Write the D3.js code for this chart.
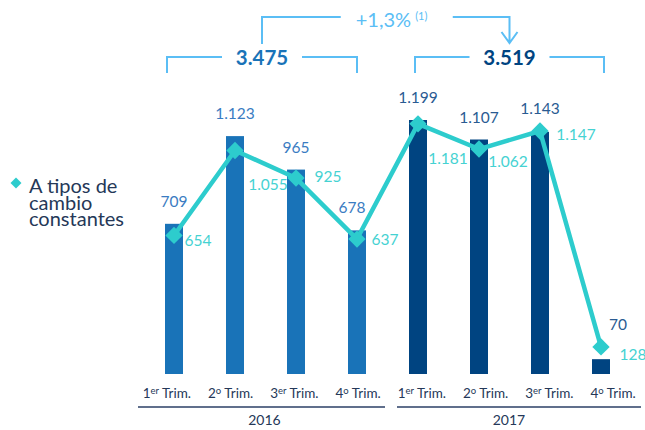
<!DOCTYPE html>
<html>
<head>
<meta charset="utf-8">
<script src="https://cdn.jsdelivr.net/npm/d3@7"></script>
<style>
  body { margin: 0; background: #fff; }
  svg text { font-family: Lato, "Open Sans", sans-serif; }
</style>
</head>
<body>
<div id="chart"></div>
<script>
// datos: beneficio atribuido por trimestre (millones de euros)
const trimestres = ["1T16", "2T16", "3T16", "4T16", "1T17", "2T17", "3T17", "4T17"];
const trimNum = ["1", "2", "3", "4", "1", "2", "3", "4"];
const trimSup = ["er", "o", "er", "o", "er", "o", "er", "o"];
const years = ["2016", "2017"];
const valores = [709, 1123, 965, 678, 1199, 1107, 1143, 70];
const constantes = [654, 1055, 925, 637, 1181, 1062, 1147, 128];
const totales = [3475, 3519];
const variacion = "+1,3%";

// label placement tweaks (dx, dy from the diamond)
const lineLabelOff = [[24, 11], [33, 39], [32, 4], [28, 6], [30, 40], [29, 18], [36, 9], [32, 13]];
const barLabelDx = [0, 0, 0, -5, 0, 0, 0, 17];

const W = 645, H = 430;
const c2016 = "#1973b8", c2017 = "#004481", cLine = "#2dcccd", cBracket = "#5bbef5";
const cText = "#253858";

const es = d3.formatLocale({ decimal: ",", thousands: ".", grouping: [3], currency: ["", ""] });
const fmt = es.format(",d");

const svg = d3.select("#chart").append("svg")
    .attr("width", W)
    .attr("height", H);

const x = d3.scalePoint()
    .domain(trimestres)
    .range([143.5, 631.5])
    .padding(0.5);

// axis labels are spread a bit wider than the bars
const xLab = d3.scalePoint()
    .domain(trimestres)
    .range([135, 645])
    .padding(0.5);

const y = d3.scaleLinear()
    .domain([0, 1200])
    .range([374, 119.8]);

const barW = 18;
const yearOf = i => i < 4 ? 0 : 1;

// bars
svg.append("g").selectAll("rect")
    .data(valores)
    .join("rect")
    .attr("x", (d, i) => x(trimestres[i]) - barW / 2)
    .attr("y", d => y(d))
    .attr("width", barW)
    .attr("height", d => y(0) - y(d))
    .attr("fill", (d, i) => yearOf(i) ? c2017 : c2016);

// line
svg.append("path")
    .datum(constantes)
    .attr("fill", "none")
    .attr("stroke", cLine)
    .attr("stroke-width", 4.5)
    .attr("stroke-linejoin", "round")
    .attr("d", d3.line()
        .x((d, i) => x(trimestres[i]))
        .y(d => y(d)));

svg.append("g").selectAll("path")
    .data(constantes)
    .join("path")
    .attr("d", d3.symbol(d3.symbolSquare, 150))
    .attr("transform", (d, i) => "translate(" + x(trimestres[i]) + "," + y(d) + ") rotate(45)")
    .attr("fill", cLine);

// bar value labels
svg.append("g").selectAll("text")
    .data(valores)
    .join("text")
    .attr("x", (d, i) => x(trimestres[i]) + barLabelDx[i])
    .attr("y", (d, i) => Math.min(y(d), y(constantes[i])) - 17)
    .attr("text-anchor", "middle")
    .attr("font-size", 15.5)
    .attr("fill", (d, i) => yearOf(i) ? "#2a5b92" : "#3a7cc2")
    .text(d => fmt(d));

// line value labels
svg.append("g").selectAll("text")
    .data(constantes)
    .join("text")
    .attr("x", (d, i) => x(trimestres[i]) + lineLabelOff[i][0])
    .attr("y", (d, i) => y(d) + lineLabelOff[i][1])
    .attr("text-anchor", "middle")
    .attr("font-size", 15.5)
    .attr("fill", "#45d2d2")
    .text(d => fmt(d));

// x axis labels
const xl = svg.append("g").selectAll("text")
    .data(trimestres)
    .join("text")
    .attr("x", d => xLab(d))
    .attr("y", 398)
    .attr("text-anchor", "middle")
    .attr("font-size", 13.5)
    .attr("fill", cText);
xl.append("tspan").text((d, i) => trimNum[i]);
xl.append("tspan")
    .attr("font-size", 9.5)
    .attr("dy", -4)
    .text((d, i) => trimSup[i]);
xl.append("tspan")
    .attr("dy", 4)
    .text(" Trim.");

// year lines + labels
years.forEach(function (yr, k) {
    let first = x(trimestres[k * 4]), last = x(trimestres[k * 4 + 3]);
    let x0 = k ? first - 21 : first - 36;
    let x1 = k ? last + 40 : last + 28;
    svg.append("line")
        .attr("x1", x0).attr("x2", x1)
        .attr("y1", 407).attr("y2", 407)
        .attr("stroke", "#2b3f66")
        .attr("stroke-width", 1.5);
    svg.append("text")
        .attr("x", (x0 + x1) / 2 + (k ? -10 : 3))
        .attr("y", 425)
        .attr("text-anchor", "middle")
        .attr("font-size", 14)
        .attr("fill", cText)
        .text(yr);
});

// totals with brackets
const totCx = [];
totales.forEach(function (t, k) {
    let first = x(trimestres[k * 4]), last = x(trimestres[k * 4 + 3]);
    let x0 = first - (k ? 3 : 7), x1 = last + (k ? 3 : 0);
    let cx = (x0 + x1) / 2;
    totCx.push(cx);
    svg.append("path")
        .attr("d", "M" + x0 + ",73V57H" + (cx - 40) + "M" + (cx + 40) + ",57H" + x1 + "V73")
        .attr("fill", "none")
        .attr("stroke", cBracket)
        .attr("stroke-width", 2);
    svg.append("text")
        .attr("x", cx)
        .attr("y", 65)
        .attr("text-anchor", "middle")
        .attr("font-size", 20.5)
        .attr("font-weight", "bold")
        .attr("fill", k ? c2017 : c2016)
        .text(fmt(t));
});

// variation arrow
const ax0 = totCx[0], ax1 = totCx[1], am = (ax0 + ax1) / 2;
svg.append("path")
    .attr("d", "M" + ax0 + ",44V17H" + (am - 45) + "M" + (am + 67) + ",17H" + ax1 + "V43"
        + "M" + (ax1 - 8) + ",32L" + ax1 + ",43L" + (ax1 + 8) + ",32")
    .attr("fill", "none")
    .attr("stroke", cBracket)
    .attr("stroke-width", 2);
const vt = svg.append("text")
    .attr("x", am - 30)
    .attr("y", 27)
    .attr("font-size", 20)
    .attr("fill", cBracket);
vt.append("tspan").text(variacion);
vt.append("tspan")
    .attr("font-size", 11)
    .attr("dx", 4)
    .attr("dy", -7)
    .text("(1)");

// legend
svg.append("path")
    .attr("d", d3.symbol(d3.symbolSquare, 60))
    .attr("transform", "translate(16,183) rotate(45)")
    .attr("fill", cLine);
svg.append("text")
    .attr("x", 29)
    .attr("y", 193)
    .attr("font-size", 20)
    .attr("fill", cText)
    .selectAll("tspan")
    .data(["A tipos de", "cambio", "constantes"])
    .join("tspan")
    .attr("x", 29)
    .attr("dy", (d, i) => i ? 16.7 : 0)
    .text(d => d);
</script>
</body>
</html>
